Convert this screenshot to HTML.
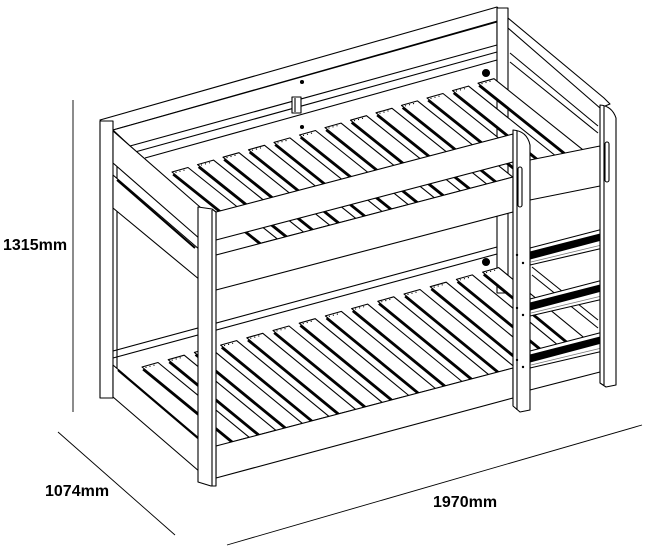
<!DOCTYPE html>
<html><head><meta charset="utf-8"><style>
html,body{margin:0;padding:0;background:#fff;}
svg{display:block;}
text{font-family:"Liberation Sans",Arial,sans-serif;font-weight:bold;font-size:16px;fill:#000;}
</style></head><body>
<svg id="s" width="650" height="547" viewBox="0 0 650 547" xmlns="http://www.w3.org/2000/svg" fill="#fff" stroke="#000" stroke-width="1.1" stroke-linejoin="round">
<polygon points="100,120 497,7 508,18 113,130"/>
<polygon points="113,130 497,22 497,45 130,146"/>
<line x1="135" y1="152" x2="497" y2="52"/>
<line x1="145" y1="158" x2="497" y2="60"/>
<rect x="292" y="97" width="9" height="16"/>
<line x1="295" y1="98" x2="295" y2="112"/>
<circle cx="302" cy="82" r="1.5" fill="#000"/>
<circle cx="302" cy="127" r="1.5" fill="#000"/>
<circle cx="486" cy="73" r="3.5" fill="#000"/>
<circle cx="486" cy="262" r="3.5" fill="#000"/>
<rect x="497" y="8" width="11" height="285"/>
<polygon points="508,18 604,98 610,104 600,108 508,28"/>
<line x1="510" y1="53" x2="598" y2="126"/>
<line x1="510" y1="62" x2="598" y2="133"/>
<line x1="532" y1="267" x2="598" y2="320"/>
<line x1="532" y1="275" x2="598" y2="328"/>
<line x1="113" y1="351" x2="497" y2="247"/>
<line x1="113" y1="358" x2="497" y2="254"/>
<rect x="100" y="121" width="13" height="277"/>
<line x1="117" y1="165" x2="117" y2="398"/>
<polygon points="113,131 200,207 200,239 113,163"/>
<polygon points="113,175 200,250 200,280 113,208"/>
<line x1="117" y1="180" x2="195" y2="248" stroke-width="2"/>
<g id="upper"></g>
<g id="lower"></g>
<polygon points="113,365 200,440 200,472 113,397"/>
<line x1="118" y1="370" x2="198" y2="438" stroke-width="2.2"/>
<polygon points="216,212 513,134 513,162 216,240"/>
<polygon points="216,255 513,177 513,212 216,290"/>
<polygon points="530,160 600,146 600,186 530,200"/>
<polygon points="216,446 513,368 513,398 216,478"/>
<polygon points="530,366 600,350 600,372 530,390"/>
<polygon points="198,207 212,209 216,212 216,486 211,486 198,482"/>
<line x1="212" y1="210" x2="212" y2="486"/>
<g id="rungs"></g>
<path d="M600,383 L600,105 Q612,106 616,118 L616,385 L606,387 Z"/>
<line x1="604" y1="106" x2="604" y2="385"/>
<rect x="605" y="142" width="4" height="40" rx="2"/>
<path d="M513,406 L513,130 Q527,131 530,145 L530,410 L520,412 Z"/>
<line x1="517" y1="131" x2="517" y2="410"/>
<rect x="518" y="167" width="4" height="40" rx="2"/>
<g fill="#000" stroke="none">
<circle cx="517" cy="255" r="1.2"/><circle cx="523" cy="263" r="1.2"/>
<circle cx="517" cy="308" r="1.2"/><circle cx="523" cy="315" r="1.2"/>
<circle cx="517" cy="360" r="1.2"/><circle cx="523" cy="367" r="1.2"/>
</g>
<g stroke-width="0.9" fill="none">
<line x1="73" y1="100" x2="73" y2="412"/>
<line x1="58" y1="432" x2="175" y2="535"/>
<line x1="227" y1="545" x2="642" y2="425"/>
</g>
<text x="3" y="250" stroke="none">1315mm</text>
<text x="45" y="496" stroke="none">1074mm</text>
<text x="433" y="507" stroke="none">1970mm</text>
</svg>
<script>
(function(){
var NS="http://www.w3.org/2000/svg";
function poly(g,pts,extra){var p=document.createElementNS(NS,"polygon");p.setAttribute("points",pts.map(function(a){return a[0].toFixed(1)+","+a[1].toFixed(1)}).join(" "));if(extra)for(var k in extra)p.setAttribute(k,extra[k]);g.appendChild(p);}
function line(g,a,b,w){var l=document.createElementNS(NS,"line");l.setAttribute("x1",a[0]);l.setAttribute("y1",a[1]);l.setAttribute("x2",b[0]);l.setAttribute("y2",b[1]);if(w)l.setAttribute("stroke-width",w);g.appendChild(l);return l;}
function slats(id,n,x0,y0,dx,dy,fy0,fs,k){
  var g=document.getElementById(id);
  for(var i=0;i<n;i++){
    var px=x0+dx*i,py=y0+dy*i;
    var qx=px+16,qy=py-4.5;
    function end(x,y){var X=(fy0-fs*216-y+k*x)/(k-fs);return [X,y+k*(X-x)];}
    var a=end(px,py),b=end(qx,qy);
    poly(g,[[px,py],[qx,qy],b,a]);
    line(g,[px+1,py+2.5],[a[0]+1,a[1]+2.5],2);
    for(var j=1;j<4;j++){var c=document.createElementNS(NS,"circle");c.setAttribute("cx",px+j*4);c.setAttribute("cy",py-j*1.1+1.5);c.setAttribute("r",0.6);c.setAttribute("fill","#000");c.setAttribute("stroke","none");g.appendChild(c);}
  }
}
slats("upper",13,172,172,25.5,-7.4,255,-0.262,0.8);
slats("lower",14,142,367,26.2,-7.3,446,-0.262,0.82);
var r=document.getElementById("rungs");
[0,51,103].forEach(function(o){
  poly(r,[[530,248+o],[607,228+o],[612,233+o],[612,246+o],[530,265+o]],{fill:"#fff"});
  poly(r,[[530,252+o],[608,232+o],[609,238+o],[530,259+o]],{fill:"#000"});
  line(r,[531,262+o],[610,243+o],0.8).setAttribute("stroke","#777");
});
})();
</script>
</body></html>
